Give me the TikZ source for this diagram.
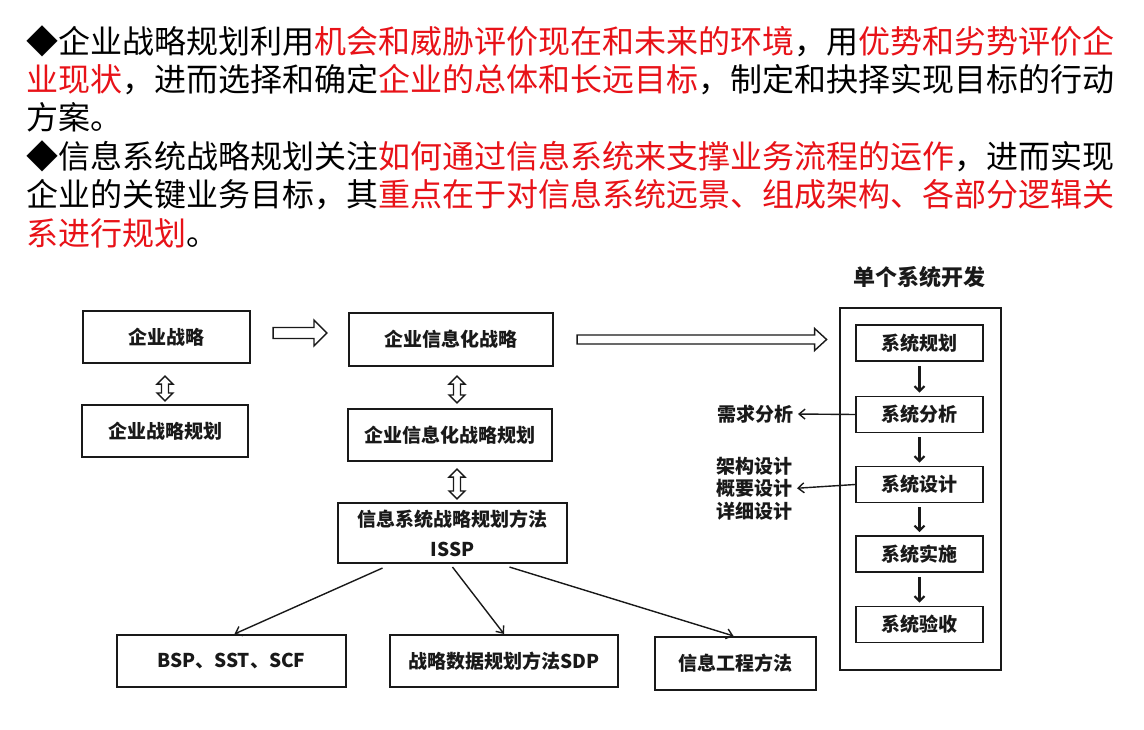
\documentclass[tikz,border=0pt]{standalone}
\usepackage{fontspec}
\setmainfont{Noto Sans CJK SC}
\usetikzlibrary{calc,arrows.meta}
\definecolor{hlred}{RGB}{232,18,24}
\definecolor{ink}{RGB}{25,25,25}
\newcommand\hollowH[5]{% start, end, shaft half, head half, head length
  \draw[hollow] let \p1=(#1), \p2=(#2) in
    (\x1,\y1+#3) -- (\x2-#5,\y1+#3) -- (\x2-#5,\y1+#4) -- (\x2,\y1)
    -- (\x2-#5,\y1-#4) -- (\x2-#5,\y1-#3) -- (\x1,\y1-#3) -- cycle;}
\newcommand\hollowV[2]{% top, bottom
  \draw[hollow] let \p1=(#1), \p2=(#2) in
    (\x1,\y1) -- (\x1+8pt,\y1-8pt) -- (\x1+3.5pt,\y1-8pt) -- (\x1+3.5pt,\y2+8pt)
    -- (\x1+8pt,\y2+8pt) -- (\x1,\y2) -- (\x1-8pt,\y2+8pt) -- (\x1-3.5pt,\y2+8pt)
    -- (\x1-3.5pt,\y1-8pt) -- (\x1-8pt,\y1-8pt) -- cycle;}
\tikzset{
  para/.style={anchor=base west, inner sep=0pt, font=\fontsize{32}{38}\selectfont, text=black},
  box/.style={draw=ink, line width=2.1pt, inner sep=0pt, font=\fontsize{19}{30}\selectfont\bfseries, text=ink, align=center},
  sbox/.style={draw=ink, line width=1.7pt, inner sep=0pt, minimum width=127, minimum height=36, font=\fontsize{19}{22}\selectfont\bfseries, text=ink},
  lab/.style={inner sep=0pt, font=\fontsize{19}{22.5}\selectfont\bfseries, text=ink, align=left},
  hollow/.style={draw=ink, line width=1.4pt, line join=miter, fill=white},
  thinarr/.style={draw=ink, line width=1.4pt, -{Straight Barb[length=6pt,width=10pt,line width=1.4pt]}},
  downarr/.style={draw=ink, line width=2.4pt, -{Straight Barb[length=5pt,width=10pt,line width=2.2pt]}},
}
\begin{document}
\begin{tikzpicture}[x=1pt,y=-1pt]
\path[use as bounding box, fill=white] (0,0) rectangle (1144,730);

% paragraph text
\node[para] (l1) at (26,54) {◆企业战略规划利用\textcolor{hlred}{机会和威胁评价现在和未来的环境}，用\textcolor{hlred}{优势和劣势评价企}};
\node[para] (l2) at (26,92) {\textcolor{hlred}{业现状}，进而选择和确定\textcolor{hlred}{企业的总体和长远目标}，制定和抉择实现目标的行动};
\node[para] (l3) at (26,130) {方案。};
\node[para] (l4) at (26,169) {◆信息系统战略规划关注\textcolor{hlred}{如何通过信息系统来支撑业务流程的运作}，进而实现};
\node[para] (l5) at (26,207) {企业的关键业务目标，其\textcolor{hlred}{重点在于对信息系统远景、组成架构、各部分逻辑关}};
\node[para] (l6) at (26,246) {\textcolor{hlred}{系进行规划}。};

% left column
\node[box, minimum width=167, minimum height=52] (e1) at (166.5,337) {企业战略};
\node[box, minimum width=166, minimum height=52] (e2) at (165,431) {企业战略规划};
% middle column
\node[box, minimum width=204, minimum height=53] (i1) at (451,339.5) {企业信息化战略};
\node[box, minimum width=204, minimum height=52] (i2) at (450,435) {企业信息化战略规划};
\node[box, minimum width=229, minimum height=60] (issp) at (452.5,533) {信息系统战略规划方法\\ISSP};
% bottom row
\node[box, minimum width=229, minimum height=52] (b1) at (231.5,661) {BSP、SST、SCF};
\node[box, minimum width=228, minimum height=52] (b2) at (504,661) {战略数据规划方法SDP};
\node[box, minimum width=161, minimum height=53] (b3) at (735.5,663.5) {信息工程方法};

% right: single system development
\node[inner sep=0pt, font=\fontsize{22}{26}\selectfont\bfseries, text=ink] (title) at (919,277) {单个系统开发};
\node[draw=ink, line width=2.8pt, minimum width=161, minimum height=362, inner sep=0pt] (big) at (920.5,489) {};
\node[sbox] (s1) at (919.5,343) {系统规划};
\node[sbox] (s2) at (919.5,414.5) {系统分析};
\node[sbox] (s3) at (919.5,484.5) {系统设计};
\node[sbox] (s4) at (919.5,554) {系统实施};
\node[sbox] (s5) at (919.5,624.5) {系统验收};
\node[lab, anchor=east] (req) at (794,414) {需求分析};
\node[lab, anchor=east] (des) at (793,488.5) {架构设计\\概要设计\\详细设计};

% hollow arrows
\hollowH{$(e1.east)+(22,-4)$}{$(i1.west)+(-21,0)$}{5.5pt}{13pt}{13pt}
\hollowH{$(i1.east)+(23,0)$}{$(big.west)+(-12,0)$}{4.5pt}{11pt}{12pt}
\hollowV{$(e1.south)+(-1.5,12)$}{$(e2.north)+(0,-3)$}
\hollowV{$(i1.south)+(6,9)$}{$(i2.north)+(0,-5)$}
\hollowV{$(i2.south)+(7,7)$}{$(issp.north)+(0,-3)$}

% ISSP to methods
\draw[thinarr] ($(issp.south)+(-70,4)$) -- ($(b1.north)+(3,0)$);
\draw[thinarr] ($(issp.south)+(0,3)$) -- (b2.north);
\draw[thinarr] ($(issp.south)+(57,3)$) -- ($(b3.north)+(-2,0)$);

% inner flow
\draw[downarr, shorten <=4pt, shorten >=3pt] (s1.south) -- (s2.north);
\draw[downarr, shorten <=4pt, shorten >=3pt] (s2.south) -- (s3.north);
\draw[downarr, shorten <=4pt, shorten >=3pt] (s3.south) -- (s4.north);
\draw[downarr, shorten <=4pt, shorten >=3pt] (s4.south) -- (s5.north);

% side outputs
\draw[thinarr, shorten >=4pt] (s2.west) -- (req.east);
\draw[thinarr, shorten >=4pt] (s3.west) -- (des.east);
\end{tikzpicture}
\end{document}
